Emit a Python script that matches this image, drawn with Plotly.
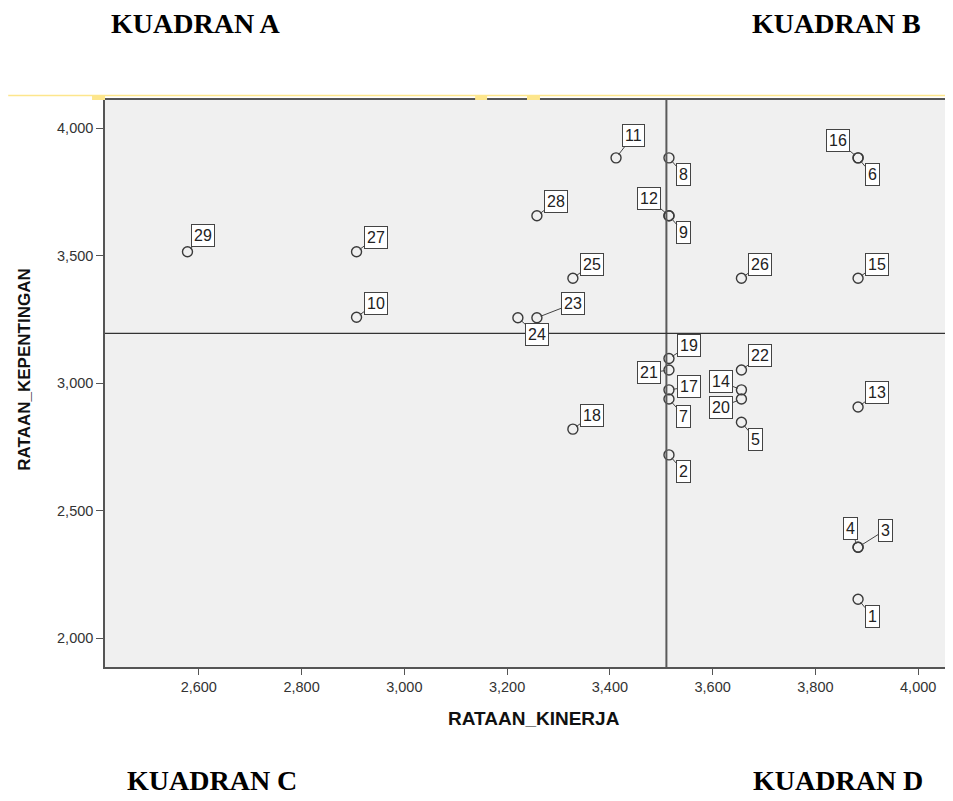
import plotly.graph_objects as go

# ---- data ----
item_ids = [1, 2, 3, 4, 5, 6, 7, 8, 9, 10, 11, 12, 13, 14, 15,
            16, 17, 18, 19, 20, 21, 22, 23, 24, 25, 26, 27, 28, 29]
rataan_kinerja = [3.883, 3.515, 3.883, 3.883, 3.656, 3.883, 3.515, 3.515, 3.515, 2.907,
                  3.412, 3.515, 3.883, 3.656, 3.883, 3.883, 3.515, 3.328, 3.515, 3.656,
                  3.515, 3.656, 3.258, 3.221, 3.328, 3.656, 2.907, 3.258, 2.578]
rataan_kepentingan = [2.153, 2.719, 2.357, 2.357, 2.847, 3.884, 2.938, 3.884, 3.657, 3.259,
                      3.884, 3.657, 2.907, 2.974, 3.412, 3.884, 2.974, 2.820, 3.097, 2.938,
                      3.052, 3.052, 3.257, 3.257, 3.412, 3.412, 3.516, 3.657, 3.516]
mean_kinerja = 3.510
mean_kepentingan = 3.196
x_ticks = [2.6, 2.8, 3.0, 3.2, 3.4, 3.6, 3.8, 4.0]
y_ticks = [2.0, 2.5, 3.0, 3.5, 4.0]
x_title = "RATAAN_KINERJA"
y_title = "RATAAN_KEPENTINGAN"
quadrant_titles = ["KUADRAN A", "KUADRAN B", "KUADRAN C", "KUADRAN D"]

# ---- label placement (pixel offsets of each id box from its point) ----
label_offsets = {
    1: (14, 17), 2: (15, 17), 3: (27, -17), 4: (-8, -19), 5: (14, 17),
    6: (14, 17), 7: (15, 17), 8: (15, 17), 9: (15, 17), 10: (19, -14),
    11: (17, -22), 12: (-20, -17), 13: (19, -14), 14: (-20, -8), 15: (19, -14),
    16: (-20, -17), 17: (20, -3), 18: (19, -14), 19: (20, -13), 20: (-20, 8),
    21: (-20, 3), 22: (19, -14), 23: (36, -14), 24: (19, 17), 25: (19, -14),
    26: (19, -14), 27: (19, -14), 28: (19, -14), 29: (16, -16),
}

# the page body adds an 8px offset, so the figure is laid out in page pixels minus 8
OFF = 8
W, H = 953 - OFF, 801 - OFF
ML, MR, MT, MB = 105 - OFF, 3, 100 - OFF, 134
PW, PH = W - ML - MR, H - MT - MB

fig = go.Figure()
fig.add_trace(go.Scatter(
    x=rataan_kinerja, y=rataan_kepentingan, mode="markers",
    marker=dict(symbol="circle-open", size=10, color="#3a3a3a",
                line=dict(width=1.4, color="#3a3a3a")),
    hoverinfo="skip", showlegend=False,
))

annotations = []
for i, xv, yv in zip(item_ids, rataan_kinerja, rataan_kepentingan):
    ax, ay = label_offsets[i]
    annotations.append(dict(
        x=xv, y=yv, xref="x", yref="y", text=str(i),
        showarrow=True, arrowhead=0, arrowwidth=1, arrowcolor="#444",
        ax=ax, ay=ay, standoff=4,
        font=dict(family="Liberation Sans, Arial, sans-serif", size=16, color="#222"),
        bgcolor="white", bordercolor="#444", borderwidth=1, borderpad=2,
    ))


def px_to_paper(px, py):
    # px, py in page pixels
    return (px - OFF - ML) / PW, (H - MB - (py - OFF)) / PH


quad_pos = [(196, 23), (838, 23), (212, 780), (840, 780)]
for title, (px, py) in zip(quadrant_titles, quad_pos):
    xp, yp = px_to_paper(px, py)
    annotations.append(dict(
        x=xp, y=yp, xref="paper", yref="paper", text="<b>%s</b>" % title,
        showarrow=False, xanchor="center", yanchor="middle",
        font=dict(family="Liberation Serif, Times New Roman, serif", size=28, color="black"),
    ))

# axis titles
xp, yp = px_to_paper(535, 718)
annotations.append(dict(x=xp, y=yp, xref="paper", yref="paper", text="<b>%s</b>" % x_title,
                        showarrow=False, xanchor="center", yanchor="middle",
                        font=dict(family="Liberation Sans, Arial, sans-serif", size=19, color="#111")))
xp, yp = px_to_paper(23.5, 370)
annotations.append(dict(x=xp, y=yp, xref="paper", yref="paper", text="<b>%s</b>" % y_title,
                        showarrow=False, xanchor="center", yanchor="middle", textangle=-90,
                        font=dict(family="Liberation Sans, Arial, sans-serif", size=17, color="#111")))

shapes = [
    dict(type="line", xref="x", yref="paper", x0=mean_kinerja, x1=mean_kinerja, y0=0, y1=1,
         line=dict(color="#5a5a5a", width=2)),
    dict(type="line", xref="paper", yref="y", x0=0, x1=1, y0=mean_kepentingan, y1=mean_kepentingan,
         line=dict(color="#333", width=1.2)),
]
# yellow selection strip above the plot frame
x0p, ytop = px_to_paper(8, 95.5)
x1p, _ = px_to_paper(953, 95.5)
shapes.append(dict(type="line", xref="paper", yref="paper", x0=x0p, x1=x1p, y0=ytop, y1=ytop,
                   line=dict(color="#fde68c", width=1.5), layer="above"))
for a, b in [(92, 105), (476, 488), (528, 541)]:
    xa, yb = px_to_paper(a, 100)
    xb, yt = px_to_paper(b, 95)
    shapes.append(dict(type="rect", xref="paper", yref="paper", x0=xa, x1=xb, y0=yb, y1=yt,
                       fillcolor="#fde68c", line=dict(width=0), layer="above"))

fig.update_layout(
    width=W, height=H, autosize=False,
    margin=dict(l=ML, r=MR, t=MT, b=MB),
    paper_bgcolor="white", plot_bgcolor="#f0f0f0",
    separators=",.",
    font=dict(family="Liberation Sans, Arial, sans-serif", color="#333"),
    annotations=annotations, shapes=shapes,
    xaxis=dict(range=[2.4175, 4.058], tickvals=x_ticks, tickformat=".3f",
               showgrid=False, zeroline=False, showline=True, linecolor="#555", linewidth=1.5,
               mirror=True, ticks="outside", ticklen=6, tickcolor="#555",
               tickfont=dict(size=14.5, color="#333")),
    yaxis=dict(range=[1.887, 4.111], tickvals=y_ticks, tickformat=".3f",
               showgrid=False, zeroline=False, showline=True, linecolor="#555", linewidth=1.5,
               mirror=True, ticks="outside", ticklen=7, tickcolor="#555",
               tickfont=dict(size=14.5, color="#333")),
)

fig.write_html("out.html")
